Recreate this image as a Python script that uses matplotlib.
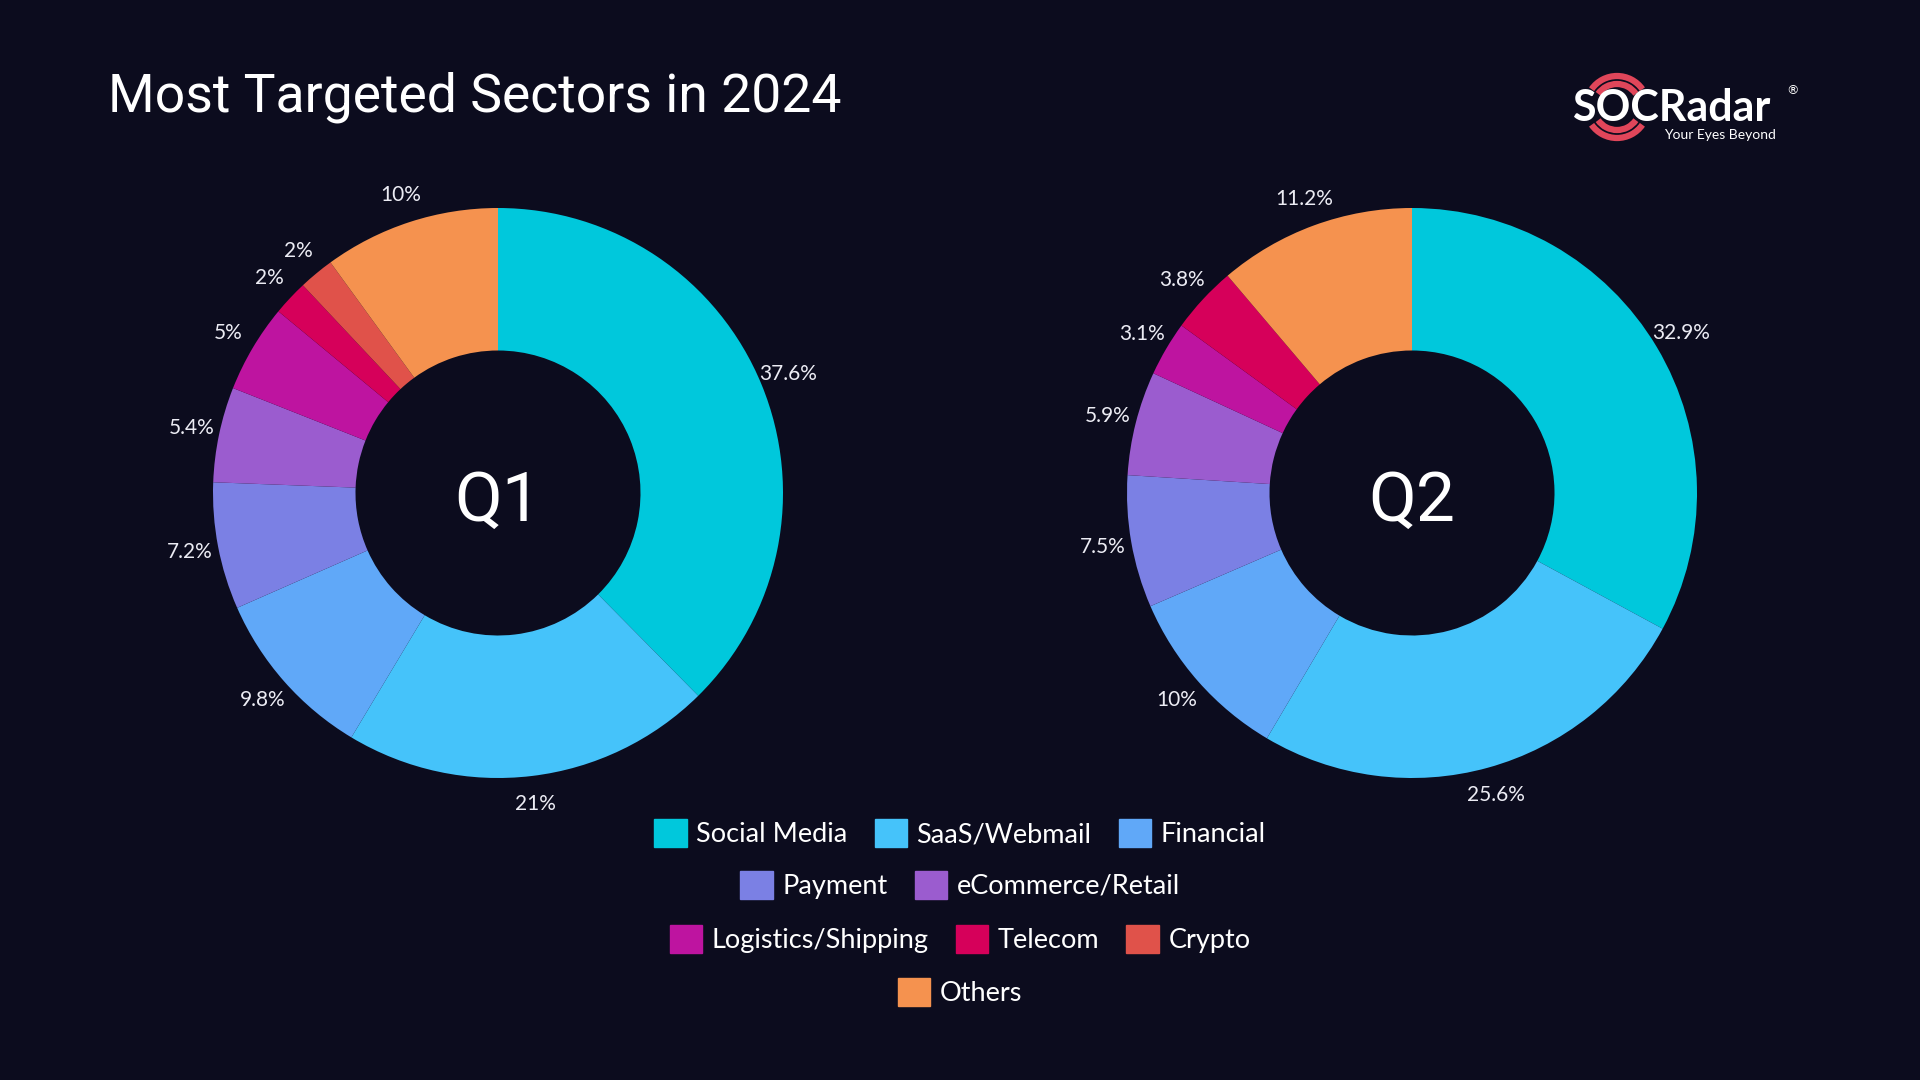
import matplotlib.pyplot as plt
from matplotlib.patches import Arc

BG = '#0c0c1e'

sectors = ['Social Media', 'SaaS/Webmail', 'Financial', 'Payment', 'eCommerce/Retail',
           'Logistics/Shipping', 'Telecom', 'Crypto', 'Others']
colors = ['#00c8dc', '#45c3fa', '#60a8f8', '#7b80e4', '#9b5ccf',
          '#be14a0', '#d6005a', '#e0524a', '#f5924f']
q1 = [37.6, 21, 9.8, 7.2, 5.4, 5, 2, 2, 10]
q2 = [32.9, 25.6, 10, 7.5, 5.9, 3.1, 3.8, 0, 11.2]  # no Crypto slice in Q2

legend_rows = [['Social Media', 'SaaS/Webmail', 'Financial'],
               ['Payment', 'eCommerce/Retail'],
               ['Logistics/Shipping', 'Telecom', 'Crypto'],
               ['Others']]

fig = plt.figure(figsize=(19.2, 10.8), dpi=100, facecolor=BG)


def donut(rect, values, name):
    ax = fig.add_axes(rect)
    ax.set_facecolor(BG)
    vals = [v for v in values if v > 0]
    cols = [c for v, c in zip(values, colors) if v > 0]
    labels = [f'{v:g}%' for v in vals]
    wedges, texts = ax.pie(vals, colors=cols, labels=labels, startangle=90, counterclock=False,
                           labeldistance=1.1, wedgeprops=dict(width=0.5, linewidth=0),
                           textprops=dict(color='#ececf4', fontsize=15, family='Lato'))
    for t in texts:
        t.set_ha('center')  # labels sit centred on their anchor point
    ax.text(0, -0.03, name, ha='center', va='center', color='white', fontsize=50, family='Roboto')
    ax.set_xlim(-1.5, 1.5)
    ax.set_ylim(-1.5, 1.5)
    ax.set_aspect('equal')
    ax.axis('off')


# outer radius ~285 px, so 3 units of axes = 855 px
w, h = 855 / 1920, 855 / 1080
donut([(498 - 427.5) / 1920, (1080 - 493 - 427.5) / 1080, w, h], q1, 'Q1')
donut([(1412 - 427.5) / 1920, (1080 - 493 - 427.5) / 1080, w, h], q2, 'Q2')

# legend, one centered row at a time
row_y = [0.2287, 0.1806, 0.1306, 0.0815]
for row, y in zip(legend_rows, row_y):
    handles = [plt.Rectangle((0, 0), 1, 1, color=colors[sectors.index(s)]) for s in row]
    fig.legend(handles, row, loc='center', bbox_to_anchor=(0.5, y), ncol=len(row),
               frameon=False, prop=dict(family='Lato', size=19.5),
               handlelength=1.2, handleheight=1.2, handletextpad=0.35,
               columnspacing=1.0, labelcolor='white', borderpad=0)

# title and logo on a pixel overlay
ov = fig.add_axes([0, 0, 1, 1])
ov.set_xlim(0, 1920)
ov.set_ylim(1080, 0)
ov.axis('off')
ov.patch.set_alpha(0)

ov.text(108, 97, 'Most Targeted Sectors in 2024', color='white', fontsize=38.5,
        family='Roboto', va='center', ha='left')

ox, oy = 1617, 107
for r in [23, 31]:
    ov.add_patch(Arc((ox, oy), 2 * r, 2 * r, theta1=35, theta2=145, color='#e0465a', lw=4.5))
    ov.add_patch(Arc((ox, oy), 2 * r, 2 * r, theta1=215, theta2=325, color='#e0465a', lw=4.5))
ov.text(1572, 108, 'SOCRadar', color='white', fontsize=31, fontweight='bold',
        family='Lato', va='center', ha='left')
ov.text(1786, 91, '®', color='white', fontsize=9, family='DejaVu Sans', va='center')
ov.text(1776, 135, 'Your Eyes Beyond', color='white', fontsize=10, family='Lato',
        va='center', ha='right')

fig.savefig('out.png', dpi=100, facecolor=BG)
